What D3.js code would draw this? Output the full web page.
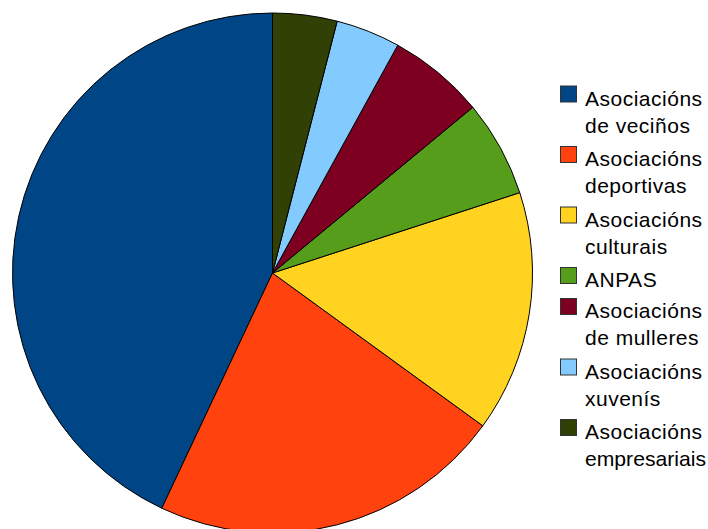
<!DOCTYPE html>
<html>
<head>
<meta charset="utf-8">
<script src="https://cdn.jsdelivr.net/npm/d3@7/dist/d3.min.js"></script>
<style>
  html, body { margin: 0; padding: 0; background: #ffffff; }
  svg { display: block; }
  text { font-family: "Liberation Sans", Arial, sans-serif; }
</style>
</head>
<body>
<svg id="chart" width="708" height="529"></svg>
<script>
// Share of associations by type (%)
const categories = [
  ["Asociacións", "de veciños"],
  ["Asociacións", "deportivas"],
  ["Asociacións", "culturais"],
  ["ANPAS"],
  ["Asociacións", "de mulleres"],
  ["Asociacións", "xuvenís"],
  ["Asociacións", "empresariais"]
];
const values = [43, 22, 15, 6, 6, 4, 4];
const colors = ["#004586", "#ff420e", "#ffd320", "#579d1c", "#7e0021", "#83caff", "#314004"];

const svg = d3.select("#chart");
const W = 708;
const cx = 272.5, cy = 273, radius = 260;

const data = values.map((v, i) => ({ label: categories[i], value: v, color: colors[i] }));

// Slices run counter-clockwise from 12 o'clock
const pie = d3.pie()
  .sort(null)
  .value(d => d.value)
  .startAngle(0)
  .endAngle(-2 * Math.PI);

const arc = d3.arc().innerRadius(0).outerRadius(radius);

svg.append("g")
  .attr("transform", `translate(${cx},${cy})`)
  .selectAll("path")
  .data(pie(data))
  .join("path")
  .attr("d", arc)
  .attr("fill", d => d.data.color)
  .attr("stroke", "#000")
  .attr("stroke-width", 1)
  .attr("stroke-linejoin", "round");

// Legend
const legendX = 560, textX = 585, boxSize = 16;
const lineGap = 27, entryGapTwo = 60.5, entryGapOne = 31;
const fontSize = 21;
const maxTextW = W - textX - 2;

let baseline = 105.5;
const legend = svg.append("g");
data.forEach(d => {
  const g = legend.append("g");
  g.append("rect")
    .attr("x", legendX + 0.5)
    .attr("y", baseline - 19.5)
    .attr("width", boxSize)
    .attr("height", boxSize)
    .attr("fill", d.color)
    .attr("stroke", "#333")
    .attr("stroke-width", 1);
  d.label.forEach((line, j) => {
    const t = g.append("text")
      .attr("x", textX)
      .attr("y", baseline + j * lineGap)
      .attr("font-size", fontSize)
      .attr("letter-spacing", "0.5px")
      .attr("fill", "#000")
      .text(line);
    const len = t.node().getComputedTextLength();
    if (len > maxTextW) {
      t.attr("letter-spacing", null)
       .attr("textLength", maxTextW)
       .attr("lengthAdjust", "spacingAndGlyphs");
    }
  });
  baseline += d.label.length > 1 ? entryGapTwo : entryGapOne;
});
</script>
</body>
</html>
